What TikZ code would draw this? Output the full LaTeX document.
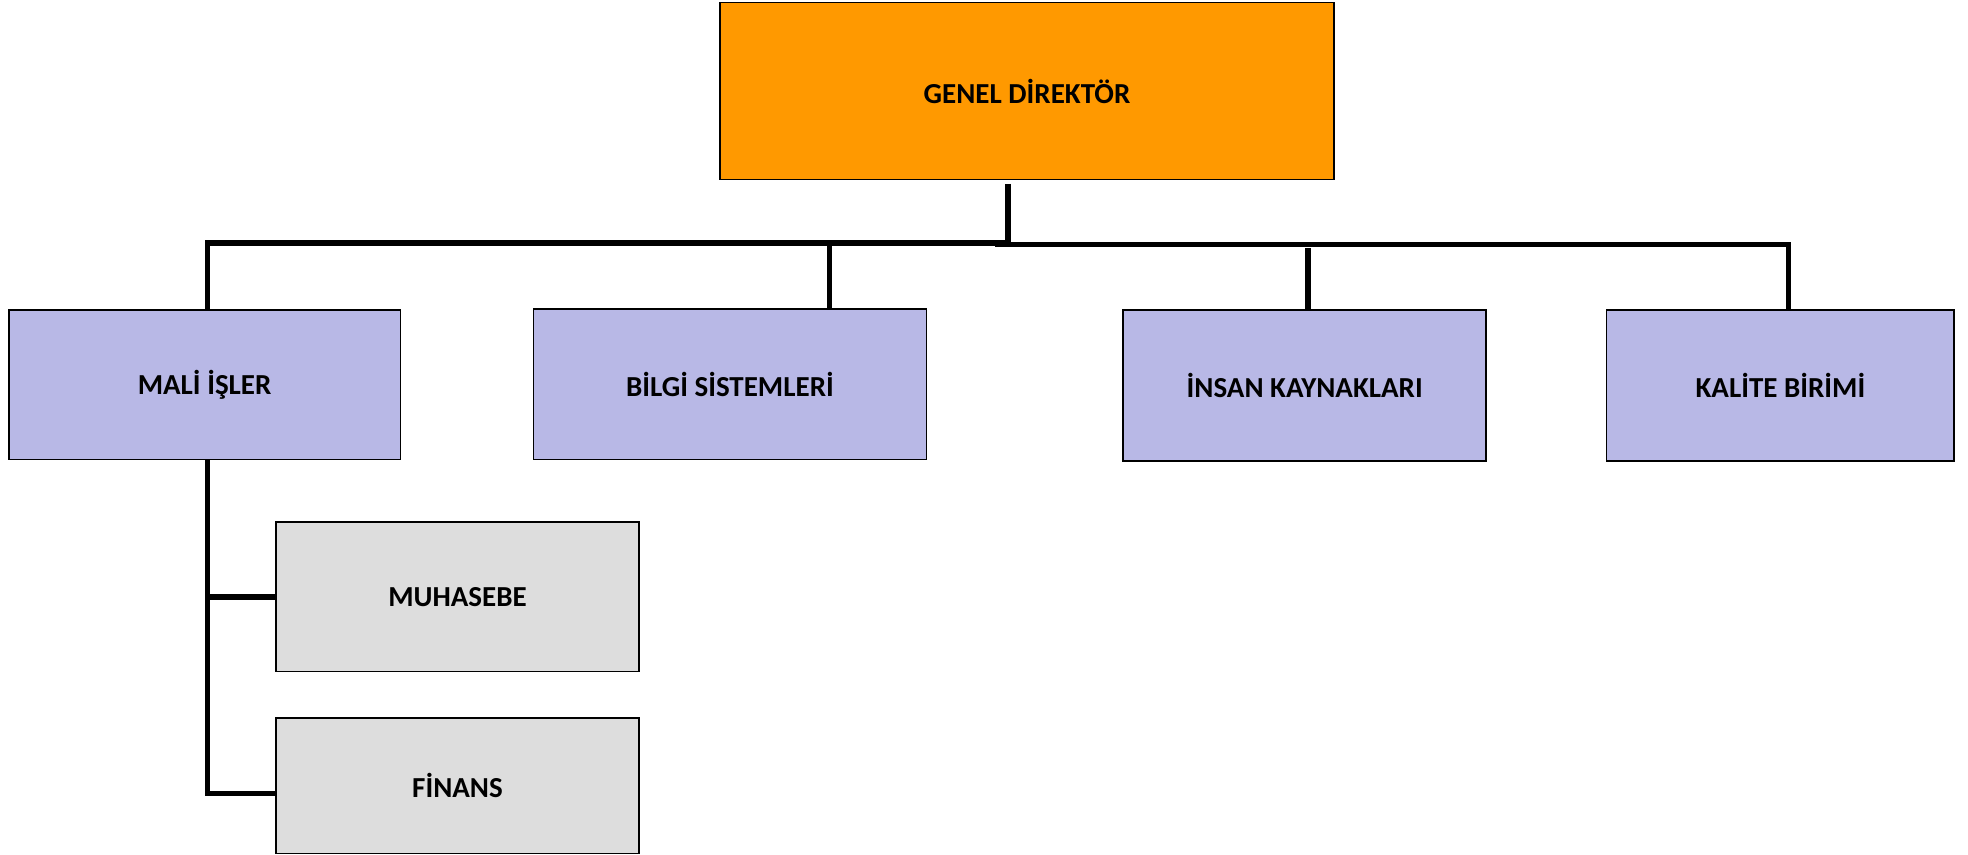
\documentclass[tikz,border=0pt]{standalone}
\usepackage{fontspec}
\setmainfont{Carlito}
\definecolor{director}{HTML}{FF9900}
\definecolor{dept}{HTML}{B8B8E6}
\definecolor{unit}{HTML}{DDDDDD}

\begin{document}
\begin{tikzpicture}[x=0.5pt, y=-0.5pt,
    box/.style={draw, line width=0.9pt, inner sep=0pt,
        font=\fontsize{14.5}{17}\selectfont\bfseries},
    link/.style={line width=2.7pt}]
    \useasboundingbox (0,0) rectangle (1968,855);
    \draw
    (1027,91)node(dir)[box, fill=director, minimum width=307pt, minimum height=88.5pt]{GENEL DİREKTÖR}
    (204.6,384.7)node(mali)[box, fill=dept, minimum width=195.8pt, minimum height=74.7pt]{MALİ İŞLER}
    (729.9,384.1)node(bil)[box, fill=dept, minimum width=196.5pt, minimum height=75.3pt]{BİLGİ SİSTEMLERİ}
    (1304.7,385.3)node(ins)[box, fill=dept, minimum width=181.4pt, minimum height=75.3pt]{İNSAN KAYNAKLARI}
    (1780.4,385.3)node(kal)[box, fill=dept, minimum width=173.9pt, minimum height=75.3pt]{KALİTE BİRİMİ}
    (457.5,596.8)node(muh)[box, fill=unit, minimum width=181.4pt, minimum height=74.7pt]{MUHASEBE}
    (457.5,785.7)node(fin)[box, fill=unit, minimum width=181.4pt, minimum height=67.8pt]{FİNANS};
    %
    \coordinate (top) at (1008,184);
    \coordinate (busL) at (1008,243);
    \coordinate (busR) at (995,244.5);
    \coordinate (bildrop) at (829.6,243);
    \coordinate (insdrop) at (1307.8,248.5);
    \coordinate (malidrop) at (207.5,0);
    %
    \draw[link] (top)--(busL) -| (malidrop |- mali.north);
    \draw[link] (busR) -| ([xshift=4pt]kal.north);
    \draw[link] (bildrop)--(bildrop |- bil.north);
    \draw[link] (insdrop)--(insdrop |- ins.north);
    \draw[link] (malidrop |- mali.south) |- (muh.west);
    \draw[link] (malidrop |- mali.south) |- ([yshift=-3.75pt]fin.west);
\end{tikzpicture}
\end{document}
